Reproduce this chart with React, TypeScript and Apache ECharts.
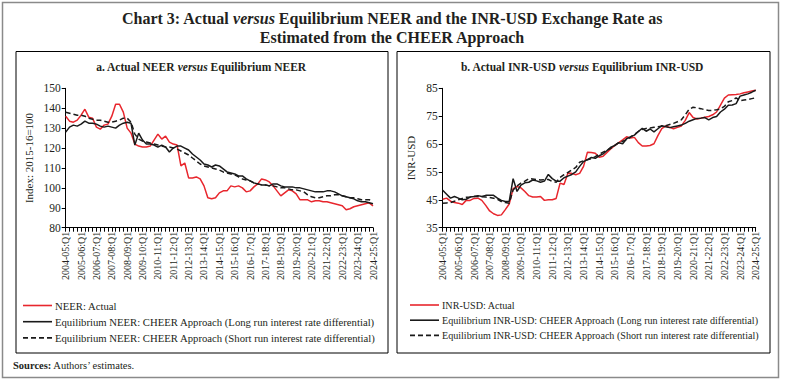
import React, { useEffect, useRef } from 'react';
import * as echarts from 'echarts';

const FONT = '"Liberation Serif", "DejaVu Serif", serif';

// Quarter labels 2004-05:Q1 ... 2024-25:Q1
const quarters: string[] = [];
for (let y = 2004; y <= 2024; y++) {
  for (let q = 1; q <= 4; q++) {
    if (y === 2024 && q > 1) break;
    quarters.push(`${y}-${String((y + 1) % 100).padStart(2, '0')}:Q${q}`);
  }
}

const neerActual = [136, 133.5, 133, 134, 136.5, 139.5, 135.5, 135, 130.5, 129.5, 131.5, 132, 136, 142, 142, 138, 130, 127.5, 122, 121,
  120.5, 120.5, 121, 124, 127, 124.5, 126, 123, 122, 121.5, 111, 112.5, 105, 105, 105.5, 104.5, 101, 95, 94.5, 95,
  97.5, 98.5, 98.5, 101, 100.5, 101, 100, 98, 98.5, 100.5, 102, 104.5, 104, 103, 101, 98.5, 96, 97.5, 99, 98.5,
  97, 94, 94, 94, 93, 93.5, 93.5, 93, 93, 92.5, 92, 91.5, 91, 89, 89.5, 90.5, 91, 91.5, 92, 92.5, 91];

const neerLong = [128, 130.5, 131.5, 131, 132, 133.5, 132.5, 132.5, 132, 131, 130.5, 131, 130.5, 130, 131.5, 132.5, 133, 132.5, 121.5, 127.5,
  124, 122, 122, 121.5, 120.5, 121.5, 120.5, 118, 120, 121, 121, 120, 119, 117, 115.5, 114, 112, 111.5, 110.5, 111.5,
  111, 109.5, 108, 107.5, 107, 106, 106, 104.5, 103.5, 102.5, 102, 101.5, 101.5, 101, 102, 102, 101, 100.5, 100.5, 100.5,
  100, 100, 99.5, 99, 98.5, 98, 98, 98, 98.5, 98.5, 98, 97, 96, 95.5, 95, 94.5, 93.5, 93, 93, 92.5, 92];

const neerShort = [138, 137.5, 137, 136.5, 136.5, 136, 135, 134.5, 134, 134, 133.5, 133, 133, 133.5, 134, 135, 135, 133, 127, 124.5,
  123.5, 123, 122.5, 122, 121.5, 121, 120.5, 120.5, 120, 119.5, 118.5, 117.5, 116.5, 115, 113.5, 112, 111, 110.5, 110, 109.5,
  109, 108, 107.5, 107, 106.5, 105.5, 104.5, 104, 103.5, 102.5, 102, 101.5, 101.5, 101, 101, 100.5, 100, 100, 99.5, 99,
  99, 98.5, 98, 96.5, 95.5, 95, 95, 95.5, 96, 96, 96.5, 96.5, 96, 95.5, 95, 95, 94.5, 94, 94, 94, 93.5];

const inrActual = [45.2, 45.6, 44.5, 44, 43.8, 43.3, 44.8, 44.8, 45.5, 45.6, 44.8, 43, 41, 40, 39.4, 39.6, 41.5, 43.5, 49, 49.8,
  49.3, 48, 46.5, 46, 46, 46.2, 44.8, 45, 45, 45.5, 51, 50.5, 54.5, 54.5, 54, 54.5, 57, 62.1, 62, 61.7,
  60.3, 60.6, 62, 63.3, 64.5, 65.5, 66.5, 67.6, 67.2, 67.4, 65.5, 64.3, 64.3, 64.5, 65.1, 68, 70.5, 71.5, 71, 70.5,
  71, 71.5, 73.5, 76.3, 74.5, 74, 74.3, 74.6, 74.9, 75.5, 76.5, 79, 81.5, 82.6, 82.7, 82.8, 83, 83.4, 83.7, 84, 84.3];

const inrLong = [48.4, 47, 45.6, 46.2, 45.6, 45, 45.2, 46, 46.2, 46.5, 46.2, 46.6, 46.6, 46.6, 45.6, 44.8, 44.4, 44.4, 52.6, 48,
  50.3, 51.1, 51.3, 52.1, 51.8, 51.3, 51.7, 54.1, 52.6, 51.7, 51.7, 52.9, 53.5, 54.1, 55, 57, 58.7, 59.4, 60.2, 59.9,
  60.8, 61.5, 62.7, 63.9, 64.5, 65.5, 65.1, 66.9, 67.6, 68.2, 69.5, 70.6, 69.6, 70.4, 69.4, 70.5, 71.6, 71.2, 70.9, 71.2,
  71.5, 71.8, 72.4, 73.2, 73.7, 74.2, 74.3, 74.5, 73.7, 74.5, 74.9, 76.5, 77.5, 78.9, 79, 79.5, 82.2, 82.6, 83, 83.6, 84.3];

const inrShort = [43.8, 43.9, 44, 44.5, 45, 45.5, 45.9, 46, 46.2, 46.2, 46.1, 46, 45.8, 45.6, 45.2, 44.4, 44, 43.8, 48.5, 50,
  51, 51.7, 52.6, 52.5, 52.3, 52.1, 52.2, 52.3, 51.6, 51.3, 53, 54, 54.8, 55.7, 56.6, 58.5, 59, 59.4, 59.8, 60.5,
  61.3, 62.1, 62.8, 63.5, 64.5, 65.5, 66, 66.5, 67.5, 68.5, 69.5, 70.2, 70.6, 70.8, 71, 71.2, 71.4, 71.6, 72, 72.4,
  73, 73.7, 75.5, 77.5, 78.2, 78, 77.7, 77.3, 77, 77.1, 77.3, 77.6, 78.5, 80.2, 80.6, 81.6, 80.6, 80.8, 81, 81.3, 81.6];

const namesA = [
  'NEER: Actual',
  'Equilibrium NEER: CHEER Approach (Long run interest rate differential)',
  'Equilibrium NEER: CHEER Approach (Short run interest rate differential)',
];
const namesB = [
  'INR-USD: Actual',
  'Equilibrium INR-USD: CHEER Approach (Long run interest rate differential)',
  'Equilibrium INR-USD: CHEER Approach (Short run interest rate differential)',
];

const RED = '#e8262d';
const BLACK = '#1a1a1a';
const TXT = '#231f20';

const SOLID_ICON = 'path://M0,0H29V1.6H0Z';
const DASH_ICON = 'path://M0,0H5V1.6H0Z M8,0H13V1.6H8Z M16,0H21V1.6H16Z M24,0H29V1.6H24Z';

function xAxisCfg(gridIndex: number) {
  return {
    type: 'category', gridIndex, data: quarters, boundaryGap: false,
    axisLine: { lineStyle: { color: '#000', width: 1 } },
    axisTick: { show: true, interval: 0, length: 4, lineStyle: { color: '#000' } },
    axisLabel: { interval: 3, rotate: 90, fontSize: 10, fontFamily: FONT, color: TXT, margin: 4 },
    splitLine: { show: false },
  };
}
function yAxisCfg(gridIndex: number, min: number, max: number, name: string, nameGap: number) {
  return {
    type: 'value', gridIndex, min, max, interval: 10,
    name, nameLocation: 'middle', nameGap, nameRotate: 90,
    nameTextStyle: { fontSize: 11, fontFamily: FONT, color: TXT },
    axisLine: { show: true, lineStyle: { color: '#000', width: 1 } },
    axisTick: { show: true, length: 4, lineStyle: { color: '#000' } },
    axisLabel: { fontSize: 11.5, fontFamily: FONT, color: TXT, margin: 5 },
    splitLine: { show: false },
  };
}
function lineSeries(name: string, data: number[], idx: number, color: string, dashed: boolean) {
  return {
    type: 'line', name, data, xAxisIndex: idx, yAxisIndex: idx,
    symbol: 'none', color,
    lineStyle: { color, width: 1.5, type: dashed ? [5, 3] : 'solid' },
  };
}

export default function App() {
  const ref = useRef<HTMLDivElement>(null);
  useEffect(() => {
    if (!ref.current) return;
    const chart = echarts.init(ref.current, undefined, { renderer: 'svg' });
    const legendCfg = (left: number, names: string[], fontSize: number) => ({
      left, top: 300, orient: 'vertical',
      data: names.map((n, i) => ({ name: n, icon: i === 2 ? DASH_ICON : SOLID_ICON })),
      itemWidth: 29, itemHeight: 1.6, itemGap: 5.2,
      padding: 0,
      itemStyle: { borderWidth: 0 },
      textStyle: { fontSize, fontFamily: FONT, color: TXT, padding: [0, 0, 0, -2] },
    });
    const rich = (size: number) => ({
      b: { fontFamily: FONT, fontSize: size, fontWeight: 'bold', fill: TXT },
      i: { fontFamily: FONT, fontSize: size, fontWeight: 'bold', fontStyle: 'italic', fill: TXT },
    });
    chart.setOption({
      animation: false,
      backgroundColor: '#fff',
      grid: [
        { left: 65.7, top: 88.3, width: 307.3, height: 139.4 },
        { left: 442.7, top: 88.3, width: 313, height: 139.4 },
      ],
      xAxis: [xAxisCfg(0), xAxisCfg(1)],
      yAxis: [
        yAxisCfg(0, 80, 150, 'Index: 2015-16=100', 31),
        yAxisCfg(1, 35, 85, 'INR-USD', 26),
      ],
      legend: [legendCfg(23, namesA, 10.7), legendCfg(410, namesB, 10.1)],
      series: [
        lineSeries(namesA[0], neerActual, 0, RED, false),
        lineSeries(namesA[1], neerLong, 0, BLACK, false),
        lineSeries(namesA[2], neerShort, 0, BLACK, true),
        lineSeries(namesB[0], inrActual, 1, RED, false),
        lineSeries(namesB[1], inrLong, 1, BLACK, false),
        lineSeries(namesB[2], inrShort, 1, BLACK, true),
      ],
      graphic: [
        { type: 'rect', shape: { x: 2.5, y: 2.5, width: 776, height: 375 }, style: { fill: 'none', stroke: '#8a8a8a', lineWidth: 1.5 }, silent: true },
        { type: 'rect', shape: { x: 16, y: 51.5, width: 372, height: 301.5 }, style: { fill: 'none', stroke: '#000', lineWidth: 1 }, silent: true },
        { type: 'rect', shape: { x: 397, y: 51.5, width: 373, height: 301.5 }, style: { fill: 'none', stroke: '#000', lineWidth: 1 }, silent: true },
        {
          type: 'text', x: 392, y: 18,
          style: {
            text: '{b|Chart 3: Actual }{i|versus}{b| Equilibrium NEER and the INR-USD Exchange Rate as}',
            align: 'center', verticalAlign: 'middle', fill: TXT,
            rich: rich(16),
          },
        },
        {
          type: 'text', x: 392, y: 37,
          style: {
            text: 'Estimated from the CHEER Approach',
            align: 'center', verticalAlign: 'middle', fill: TXT,
            font: `bold 16px ${FONT}`,
          },
        },
        {
          type: 'text', x: 201, y: 67,
          style: {
            text: '{b|a. Actual NEER }{i|versus}{b| Equilibrium NEER}',
            align: 'center', verticalAlign: 'middle', fill: TXT,
            rich: rich(11.5),
          },
        },
        {
          type: 'text', x: 582, y: 67,
          style: {
            text: '{b|b. Actual INR-USD }{i|versus}{b| Equilibrium INR-USD}',
            align: 'center', verticalAlign: 'middle', fill: TXT,
            rich: rich(11.5),
          },
        },
        {
          type: 'text', x: 13, y: 365,
          style: {
            text: '{b|Sources:}{n| Authors\u2019 estimates.}',
            align: 'left', verticalAlign: 'middle', fill: TXT,
            rich: {
              b: { fontFamily: FONT, fontSize: 10.5, fontWeight: 'bold', fill: TXT },
              n: { fontFamily: FONT, fontSize: 10.5, fill: TXT },
            },
          },
        },
      ],
    });
    return () => chart.dispose();
  }, []);
  return (
    <div
      ref={ref}
      style={{ position: 'fixed', left: 0, top: 0, width: 785, height: 382, background: '#fff' }}
    />
  );
}
